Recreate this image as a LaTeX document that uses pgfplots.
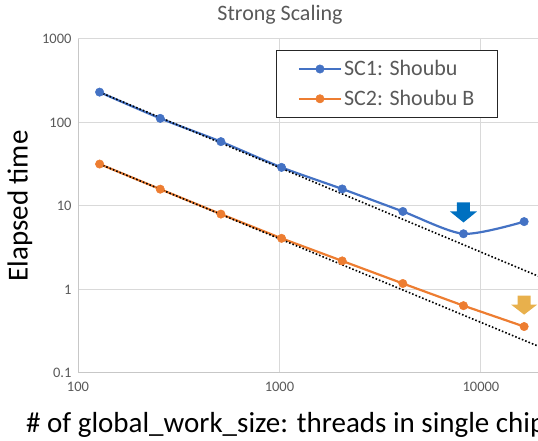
\documentclass[border=0pt]{standalone}
\usepackage{pgfplots}
\pgfplotsset{compat=1.18}
\usepackage{fontspec}
\setmainfont{Carlito}
\definecolor{sbblue}{HTML}{4472C4}
\definecolor{sborange}{HTML}{ED7D31}
\definecolor{arrblue}{HTML}{0070C0}
\definecolor{arrgold}{HTML}{E8B04C}
\definecolor{txtgray}{HTML}{595959}
\definecolor{gridgray}{HTML}{D9D9D9}
\pgfdeclareplotmark{bluearrow}{%
  \pgfpathmoveto{\pgfpoint{0pt}{0pt}}%
  \pgfpathlineto{\pgfpoint{-13.5pt}{11pt}}%
  \pgfpathlineto{\pgfpoint{-6.5pt}{11pt}}%
  \pgfpathlineto{\pgfpoint{-6.5pt}{20pt}}%
  \pgfpathlineto{\pgfpoint{6.5pt}{20pt}}%
  \pgfpathlineto{\pgfpoint{6.5pt}{11pt}}%
  \pgfpathlineto{\pgfpoint{13.5pt}{11pt}}%
  \pgfpathclose\pgfusepath{fill}}
\pgfdeclareplotmark{goldarrow}{%
  \pgfpathmoveto{\pgfpoint{0pt}{0pt}}%
  \pgfpathlineto{\pgfpoint{-13pt}{10pt}}%
  \pgfpathlineto{\pgfpoint{-6.5pt}{10pt}}%
  \pgfpathlineto{\pgfpoint{-6.5pt}{19pt}}%
  \pgfpathlineto{\pgfpoint{6.5pt}{19pt}}%
  \pgfpathlineto{\pgfpoint{6.5pt}{10pt}}%
  \pgfpathlineto{\pgfpoint{13pt}{10pt}}%
  \pgfpathclose\pgfusepath{fill}}
\begin{document}
\begin{tikzpicture}[x=1pt,y=1pt]
\useasboundingbox (0,0) rectangle (538,441);
\begin{axis}[
  at={(78pt,68pt)}, anchor=south west,
  scale only axis, width=460pt, height=334pt,
  xmode=log, ymode=log,
  xmin=100, xmax=19200, ymin=0.1, ymax=1000,
  xtick={100,1000,10000}, xticklabels={100,1000,10000},
  ytick={0.1,1,10,100,1000}, yticklabels={0.1,1,10,100,1000},
  minor xtick={}, minor ytick={},
  grid=major, major grid style={gridgray, line width=1pt},
  axis x line*=bottom, axis y line*=left,
  axis line style={gridgray!80!gray, line width=1pt, -},
  tick style={draw=none},
  /pgf/number format/assume math mode=true,
  ticklabel style={font=\fontsize{14.5}{16}\selectfont, text=txtgray},
  yticklabel style={xshift=-3pt},
  xticklabel style={yshift=-6pt},
  clip=false,
  legend style={at={(0.431,0.967)}, anchor=north west, draw=black!85, line width=1.2pt,
    font=\fontsize{22}{24}\selectfont, text=txtgray, inner xsep=21pt, inner ysep=8pt,
    row sep=9pt, cells={anchor=west}},
  legend image code/.code={%
    \draw[mark repeat=2, mark phase=2] plot coordinates {(0pt,0pt) (21pt,0pt) (42pt,0pt)};},
]
\addplot[sbblue, line width=2.2pt, smooth, tension=0.45, mark=*, mark size=4.2pt, mark options={fill=sbblue, draw=sbblue, line width=0.5pt}]
  coordinates {(128,231) (256,112) (512,59) (1024,29) (2048,16) (4096,8.6) (8192,4.65) (16384,6.5)};
\addlegendentry{SC1: Shoubu}
\addplot[sborange, line width=2.2pt, mark=*, mark size=4.2pt, mark options={fill=sborange, draw=sborange, line width=0.5pt}]
  coordinates {(128,31.8) (256,15.9) (512,8.0) (1024,4.1) (2048,2.2) (4096,1.18) (8192,0.64) (16384,0.36)};
\addlegendentry{SC2: Shoubu B}
\addplot[black, line width=1.6pt, dotted, forget plot] coordinates {(128,231) (19200,1.45)};
\addplot[black, line width=1.6pt, dotted, forget plot] coordinates {(128,31.8) (19200,0.21)};
\addplot[only marks, mark=bluearrow, arrblue, forget plot] coordinates {(8192,6.35)};
\addplot[only marks, mark=goldarrow, arrgold, forget plot] coordinates {(16384,0.50)};
\end{axis}
\node[text=txtgray, font=\fontsize{22}{24}\selectfont] at (280,426) {Strong Scaling};
\node[rotate=90, font=\fontsize{29}{30}\selectfont] at (20,235) {Elapsed time};
\node[anchor=base west, font=\fontsize{29}{30}\selectfont, inner sep=0pt] at (26,8) {\# of global\_work\_size: threads in single chip};
\end{tikzpicture}
\end{document}
